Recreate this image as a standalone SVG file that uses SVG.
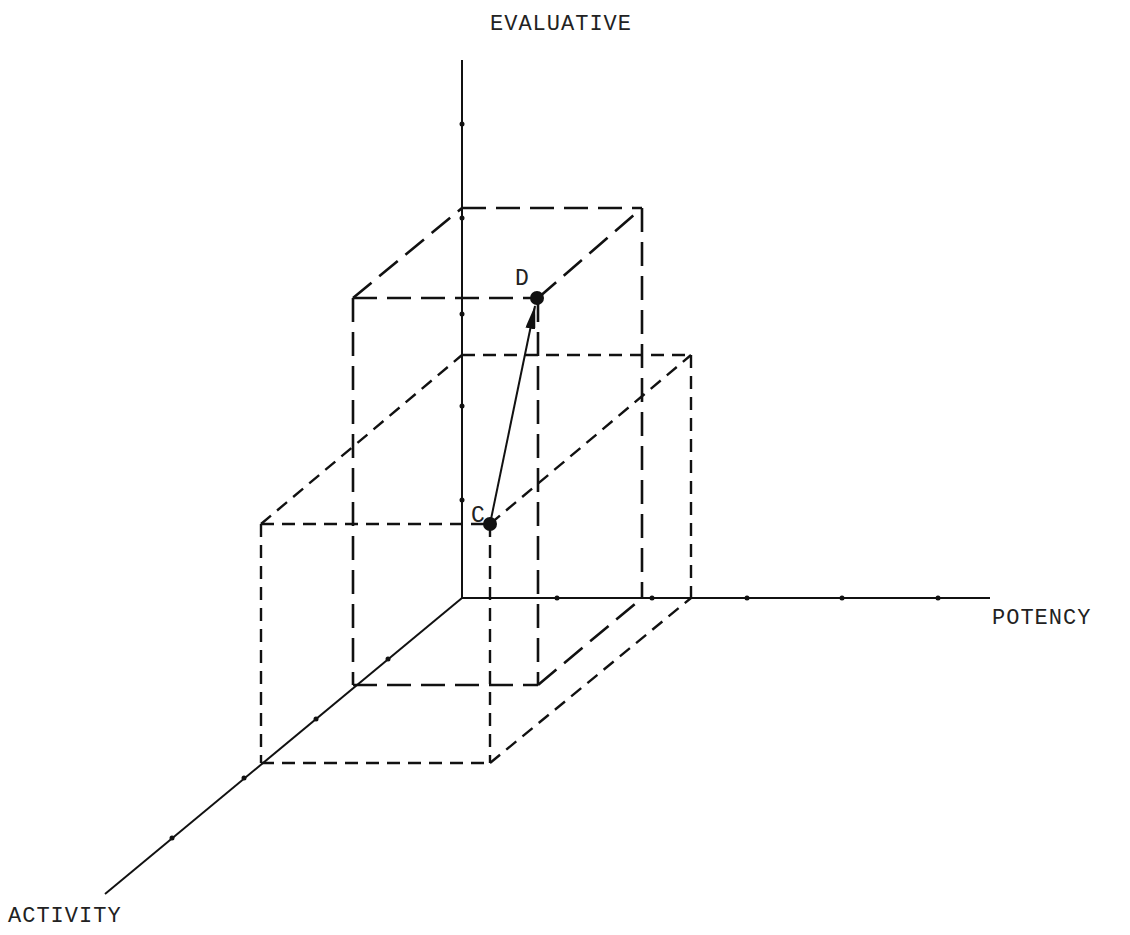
<svg xmlns="http://www.w3.org/2000/svg" width="1130" height="935" viewBox="0 0 1130 935">
<style>
.axis{stroke:#111;stroke-width:2;fill:none}
.long{stroke:#111;stroke-width:2.6;fill:none;stroke-dasharray:24 10}
.short{stroke:#111;stroke-width:2.4;fill:none;stroke-dasharray:13 8}
.tick{fill:#111}
.lbl{font-family:"Liberation Mono","Courier New",monospace;font-size:22px;fill:#222;letter-spacing:1px}
.pt{font-family:"Liberation Mono","Courier New",monospace;font-size:23px;fill:#222}
</style>
<defs>
<marker id="ah" viewBox="0 0 24 10" refX="23" refY="5" markerWidth="24" markerHeight="10" markerUnits="userSpaceOnUse" orient="auto">
<path d="M0,0 L24,5 L0,10 Z" fill="#111"/>
</marker>
</defs>
<rect width="1130" height="935" fill="#fff"/>
<g id="axes">
<line class="axis" x1="462" y1="60" x2="462" y2="598"/>
<line class="axis" x1="462" y1="598" x2="990" y2="598"/>
<line class="axis" x1="462" y1="598" x2="105" y2="894"/>
<g class="tick">
<circle cx="462" cy="124" r="2.5"/><circle cx="462" cy="218" r="2.5"/><circle cx="462" cy="314" r="2.5"/><circle cx="462" cy="406" r="2.5"/><circle cx="462" cy="500" r="2.5"/>
<circle cx="557" cy="598" r="2.5"/><circle cx="652" cy="598" r="2.5"/><circle cx="747" cy="598" r="2.5"/><circle cx="842" cy="598" r="2.5"/><circle cx="938" cy="598" r="2.5"/>
<circle cx="388" cy="659" r="2.5"/><circle cx="316" cy="719" r="2.5"/><circle cx="244" cy="778" r="2.5"/><circle cx="172" cy="838" r="2.5"/>
</g>
</g>
<g id="box-tall">
<line class="long" x1="353" y1="298" x2="538" y2="298"/>
<line class="long" x1="462" y1="208" x2="642" y2="208"/>
<line class="long" x1="353" y1="298" x2="462" y2="208"/>
<line class="long" x1="538" y1="298" x2="642" y2="208"/>
<line class="long" x1="353" y1="298" x2="353" y2="685"/>
<line class="long" x1="538" y1="298" x2="538" y2="685"/>
<line class="long" x1="353" y1="685" x2="538" y2="685"/>
<line class="long" x1="642" y1="208" x2="642" y2="598"/>
<line class="long" x1="538" y1="685" x2="642" y2="598"/>
</g>
<g id="box-short">
<line class="short" x1="261" y1="524" x2="490" y2="524"/>
<line class="short" x1="462" y1="355" x2="691" y2="355"/>
<line class="short" x1="261" y1="524" x2="462" y2="355"/>
<line class="short" x1="490" y1="524" x2="691" y2="355"/>
<line class="short" x1="261" y1="524" x2="261" y2="763"/>
<line class="short" x1="490" y1="524" x2="490" y2="763"/>
<line class="short" x1="261" y1="763" x2="490" y2="763"/>
<line class="short" x1="691" y1="355" x2="691" y2="598"/>
<line class="short" x1="490" y1="763" x2="691" y2="598"/>
</g>
<g id="connectors">
<line x1="490" y1="524" x2="535" y2="306" stroke="#111" stroke-width="2" marker-end="url(#ah)"/>
</g>
<g id="point-C">
<circle cx="490" cy="524" r="7" fill="#111"/>
<text class="pt" x="471" y="522">C</text>
</g>
<g id="point-D">
<circle cx="537" cy="298" r="7" fill="#111"/>
<text class="pt" x="515" y="285">D</text>
</g>
<g id="labels">
<text class="lbl" x="490" y="30">EVALUATIVE</text>
<text class="lbl" x="992" y="624">POTENCY</text>
<text class="lbl" x="8" y="922">ACTIVITY</text>
</g>
</svg>
